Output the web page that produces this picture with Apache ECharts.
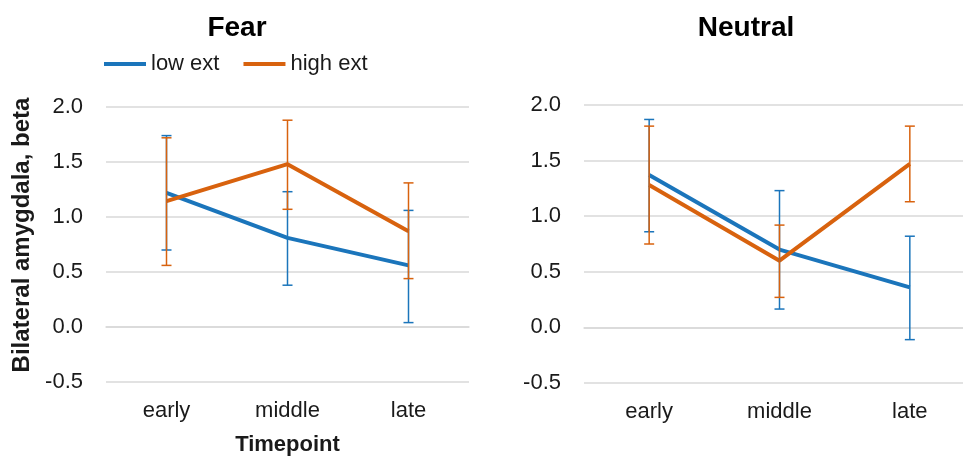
<!DOCTYPE html>
<html>
<head>
<meta charset="utf-8">
<style>
  html, body { margin: 0; padding: 0; background: #fff; }
  #chart { width: 963px; height: 457px; }
</style>
<script src="https://cdn.jsdelivr.net/npm/echarts@6/dist/echarts.min.js"></script>
</head>
<body>
<div id="chart"></div>
<script>
// data
var timepoints = ['early', 'middle', 'late'];
var yTicks = [-0.5, 0, 0.5, 1, 1.5, 2];

// Fear panel
var fearLow = [1.22, 0.81, 0.56];
var fearLowLo = [0.70, 0.38, 0.04];
var fearLowHi = [1.74, 1.23, 1.06];
var fearHigh = [1.145, 1.48, 0.87];
var fearHighLo = [0.56, 1.07, 0.44];
var fearHighHi = [1.72, 1.88, 1.31];

// Neutral panel
var neutralLow = [1.37, 0.70, 0.36];
var neutralLowLo = [0.86, 0.165, -0.11];
var neutralLowHi = [1.87, 1.23, 0.82];
var neutralHigh = [1.28, 0.60, 1.47];
var neutralHighLo = [0.75, 0.27, 1.13];
var neutralHighHi = [1.81, 0.92, 1.81];

var BLUE = '#1b75bb';
var ORANGE = '#d8620e';
var FONT = 'Liberation Sans, Arial, sans-serif';
var TEXT = '#1a1a1a';
var GRIDLINE = '#d9d9d9';

// error bars: vertical whisker plus two caps, placed through the axes
function errorBars(name, axisIdx, lo, hi, color) {
  var rows = lo.map(function (v, i) { return [i, lo[i], hi[i]]; });
  return {
    name: name,
    type: 'custom',
    xAxisIndex: axisIdx,
    yAxisIndex: axisIdx,
    z: 5,
    silent: true,
    data: rows,
    renderItem: function (params, api) {
      var top = api.coord([api.value(0), api.value(2)]);
      var bot = api.coord([api.value(0), api.value(1)]);
      var cap = 5;
      var st = { stroke: color, lineWidth: 1.5 };
      return {
        type: 'group',
        children: [
          { type: 'line', shape: { x1: top[0], y1: top[1], x2: bot[0], y2: bot[1] }, style: st },
          { type: 'line', shape: { x1: top[0] - cap, y1: top[1], x2: top[0] + cap, y2: top[1] }, style: st },
          { type: 'line', shape: { x1: bot[0] - cap, y1: bot[1], x2: bot[0] + cap, y2: bot[1] }, style: st }
        ]
      };
    }
  };
}

function lineSeries(name, axisIdx, values, color) {
  return {
    name: name,
    type: 'line',
    xAxisIndex: axisIdx,
    yAxisIndex: axisIdx,
    data: values,
    symbol: 'none',
    z: 3,
    color: color,
    lineStyle: { color: color, width: 4 }
  };
}

function xAxis(gridIdx, withName) {
  var ax = {
    type: 'category',
    gridIndex: gridIdx,
    data: timepoints,
    boundaryGap: true,
    axisTick: { show: false },
    axisLine: { lineStyle: { color: GRIDLINE, width: 1.5 } },
    axisLabel: { color: TEXT, fontSize: 22, fontFamily: FONT, margin: 18 }
  };
  if (withName) {
    ax.name = 'Timepoint';
    ax.nameLocation = 'middle';
    ax.nameGap = 52;
    ax.nameTextStyle = { color: TEXT, fontSize: 22, fontWeight: 'bold', fontFamily: FONT };
  }
  return ax;
}

function yAxis(gridIdx) {
  return {
    type: 'value',
    gridIndex: gridIdx,
    min: yTicks[0],
    max: yTicks[yTicks.length - 1],
    interval: 0.5,
    axisLine: { show: false },
    axisTick: { show: false },
    splitLine: { lineStyle: { color: GRIDLINE, width: 1.5 } },
    axisLabel: {
      color: TEXT, fontSize: 22, fontFamily: FONT, margin: 23,
      formatter: function (v) { return v.toFixed(1); }
    }
  };
}

var chart = echarts.init(document.getElementById('chart'), null, { renderer: 'canvas' });

chart.setOption({
  backgroundColor: '#fff',
  animation: false,
  title: [
    { text: 'Fear', left: 232, top: 9, textAlign: 'center',
      textStyle: { fontSize: 28, fontWeight: 'bold', color: '#000', fontFamily: FONT } },
    { text: 'Neutral', left: 741, top: 9, textAlign: 'center',
      textStyle: { fontSize: 28, fontWeight: 'bold', color: '#000', fontFamily: FONT } }
  ],
  legend: {
    data: ['low ext', 'high ext'],
    left: 99,
    top: 48,
    icon: 'rect',
    itemWidth: 42,
    itemHeight: 4,
    itemGap: 24,
    textStyle: { color: TEXT, fontSize: 22, fontFamily: FONT }
  },
  graphic: [{
    type: 'text',
    x: 22,
    y: 235,
    rotation: Math.PI / 2,
    style: {
      text: 'Bilateral amygdala, beta',
      fill: TEXT,
      font: 'bold 24px ' + FONT,
      align: 'center',
      verticalAlign: 'middle'
    }
  }],
  // the Neutral panel runs past the right edge, as in the original
  grid: [
    { left: 106, top: 107, width: 363, height: 275, outerBoundsMode: 'none' },
    { left: 584, top: 105, width: 391, height: 278, outerBoundsMode: 'none' }
  ],
  xAxis: [xAxis(0, true), xAxis(1, false)],
  yAxis: [yAxis(0), yAxis(1)],
  series: [
    lineSeries('low ext', 0, fearLow, BLUE),
    lineSeries('high ext', 0, fearHigh, ORANGE),
    errorBars('low err', 0, fearLowLo, fearLowHi, BLUE),
    errorBars('high err', 0, fearHighLo, fearHighHi, ORANGE),
    lineSeries('low ext', 1, neutralLow, BLUE),
    lineSeries('high ext', 1, neutralHigh, ORANGE),
    errorBars('low err', 1, neutralLowLo, neutralLowHi, BLUE),
    errorBars('high err', 1, neutralHighLo, neutralHighHi, ORANGE)
  ]
});
</script>
</body>
</html>
